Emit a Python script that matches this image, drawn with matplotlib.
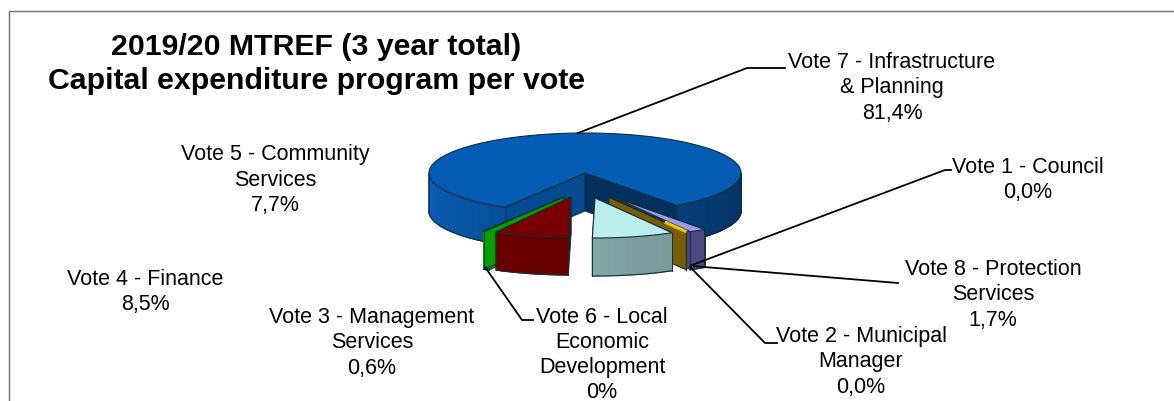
"""Exploded 3D-style pie of capital expenditure per vote, drawn in pixel coordinates."""

import numpy as np
import matplotlib
matplotlib.use("Agg")
import matplotlib.pyplot as plt
from matplotlib.patches import Polygon

# ── Data ─────────────────────────────────────────────────────────────

# Shares in percent, clockwise starting from the large slice. The near-zero
# votes round to the printed 0,0%.
slice_names = ["Vote 7", "Vote 1", "Vote 8", "Vote 2", "Vote 4", "Vote 5", "Vote 3", "Vote 6"]
slice_values = [81.4, 0.03, 1.7, 0.04, 8.5, 7.7, 0.6, 0.03]

label_texts = [
    "Vote 7 - Infrastructure\n& Planning\n81,4%",
    "Vote 1 - Council\n0,0%",
    "Vote 8 - Protection\nServices\n1,7%",
    "Vote 2 - Municipal\nManager\n0,0%",
    "Vote 4 - Finance\n8,5%",
    "Vote 5 - Community\nServices\n7,7%",
    "Vote 3 - Management\nServices\n0,6%",
    "Vote 6 - Local\nEconomic\nDevelopment\n0%",
]
label_x = [892, 1028, 993, 861, 145, 275, 372, 602]
label_y = [88, 180, 295, 362, 292, 180, 343, 355]

title_text = "2019/20 MTREF (3 year total)\nCapital expenditure program per vote"

# ── Styling ──────────────────────────────────────────────────────────

top_colors = ["#045cb4", "#1a1a1a", "#9a9aee", "#7a5c00", "#bdeeee", "#7a0000", "#00a000", "#00a000"]
wall_left = ["#0a60b8", "#7a5c00", "#5a5090", "#7a5c00", "#a6cccc", "#700000", "#00a000", "#00a000"]
wall_right = ["#04305e", "#7a5c00", "#4a4480", "#7a5c00", "#5f7f7f", "#600000", "#00a000", "#00a000"]
# radial faces: a0 is the slice's first edge, a1 its last
face0_colors = ["#034a90", "#7a5c00", "#4a4480", "#7a5c00", "#8fb3b3", "#5a0000", "#00a000", "#00a000"]
face1_colors = ["#04305e", "#7a5c00", "#4a4480", "#7a5c00", "#8fb3b3", "#5a0000", "#00a000", "#00a000"]

# apex offset of each slice from the pie centre, in pixels
offset_x = [0, 28, 28, 24, 10, -14, -21, -21]
offset_y = [0, 24, 24, 24, 25, 24, 24, 24]

CX, CY = 585, 173       # centre of the top ellipse
RX, RY = 156, 40
DEPTH = 38
START = 36.0            # right edge of the large slice, degrees right of straight down
EDGE = "#10303a"

plt.rcParams["font.family"] = ["Liberation Sans", "DejaVu Sans"]


def rim(a, ox, oy, dy=0.0):
    """Point on the slice rim at angle a (degrees right of straight down)."""
    t = np.radians(a)
    return CX + ox + RX * np.sin(t), CY + oy + RY * np.cos(t) + dy


def blend(c1, c2, f):
    a = np.array(matplotlib.colors.to_rgb(c1))
    b = np.array(matplotlib.colors.to_rgb(c2))
    return tuple(a + (b - a) * f)


def wrap(a):
    return ((a + 180) % 360) - 180


def draw_slice(ax, a0, a1, i, z):
    """Slice running from angle a0 to a1, with a0 > a1 in the drawing direction."""
    ox, oy = offset_x[i], offset_y[i]
    apex = (CX + ox, CY + oy)
    apex_low = (CX + ox, CY + oy + DEPTH)

    # radial faces
    for a, colors in ((a0, face0_colors), (a1, face1_colors)):
        p, q = rim(a, ox, oy), rim(a, ox, oy, DEPTH)
        ax.add_patch(Polygon([apex, p, q, apex_low], fc=colors[i], ec=EDGE, lw=0.7, zorder=z))

    # outer wall, only the front half of the rim shows
    angles = np.linspace(a0, a1, max(int(abs(a0 - a1)) * 2, 2))
    for u, v in zip(angles[:-1], angles[1:]):
        um, vm = wrap(u), wrap(v)
        if abs(um) > 90 or abs(vm) > 90:
            continue
        c = blend(wall_left[i], wall_right[i], (um + 90) / 180)
        quad = [rim(u, ox, oy), rim(v, ox, oy), rim(v, ox, oy, DEPTH), rim(u, ox, oy, DEPTH)]
        ax.add_patch(Polygon(quad, fc=c, ec=c, lw=0.9, zorder=z + 0.1))

    # the large slice's front rim is split in two by its gap, so outline each run
    runs = [[]]
    for a in angles:
        if abs(wrap(a)) <= 90:
            runs[-1].append(a)
        elif runs[-1]:
            runs.append([])
    for run in runs:
        if not run:
            continue
        low = [rim(a, ox, oy, DEPTH) for a in run]
        ax.plot(*zip(*low), color=EDGE, lw=0.8, zorder=z + 0.2)
        for a in (run[0], run[-1]):
            ax.plot(*zip(rim(a, ox, oy), rim(a, ox, oy, DEPTH)), color=EDGE, lw=0.7, zorder=z + 0.2)

    # top face
    top = [apex] + [rim(a, ox, oy) for a in angles]
    ax.add_patch(Polygon(top, fc=top_colors[i], ec=EDGE, lw=0.8, zorder=z + 0.3))


fig = plt.figure(figsize=(11.74, 4.01), dpi=100)
ax = fig.add_axes([0, 0, 1, 1])
ax.set_xlim(0, 1174)
ax.set_ylim(401, 0)
ax.axis("off")

# frame, only the top and left edges are inside the image
ax.plot([9, 9, 1174], [401, 10.5, 10.5], color="#6f6f6f", lw=1.0)

# ── Slices ───────────────────────────────────────────────────────────

spans = np.array(slice_values) / sum(slice_values) * 360
draw_order = [0, 1, 2, 3, 6, 7, 4, 5]
slice_edges = {}
for z, i in enumerate(draw_order):
    if i == 0:
        a0, a1 = START + spans[0], START
    else:
        a0 = START - spans[1:i].sum()
        a1 = a0 - spans[i]
    slice_edges[i] = a0
    draw_slice(ax, a0, a1, i, 2 + z)

# Vote 2's top shows as a gold sliver towards its outer end
gold_end = rim(slice_edges[3], offset_x[3], offset_y[3])
gold_start = (CX + offset_x[3] + 0.72 * (gold_end[0] - CX - offset_x[3]),
              CY + offset_y[3] + 0.72 * (gold_end[1] - CY - offset_y[3]))
ax.plot([gold_start[0], gold_end[0]], [gold_start[1], gold_end[1]], color="#e8c800", lw=2.4,
        solid_capstyle="butt", zorder=7)

# ── Leader lines ─────────────────────────────────────────────────────

leaders = [
    ([578, 747, 785], [133, 68, 68]),
    ([692, 945, 951], [265, 170, 170]),
    ([692, 898], [266, 283]),
    ([690, 765, 777], [267, 343, 343]),
    ([485, 522, 533], [267, 320, 320]),
]
for xs, ys in leaders:
    ax.plot(xs, ys, color="black", lw=1.3, zorder=20)

# ── Text ─────────────────────────────────────────────────────────────

for text, x, y in zip(label_texts, label_x, label_y):
    ax.text(x, y, text, ha="center", va="center", fontsize=15.5, color="black",
            linespacing=1.26, zorder=21)

ax.text(316, 64, title_text, ha="center", va="center", fontsize=21.8, fontweight="bold",
        color="black", linespacing=1.3, zorder=21)

fig.savefig("out.png", dpi=100)
